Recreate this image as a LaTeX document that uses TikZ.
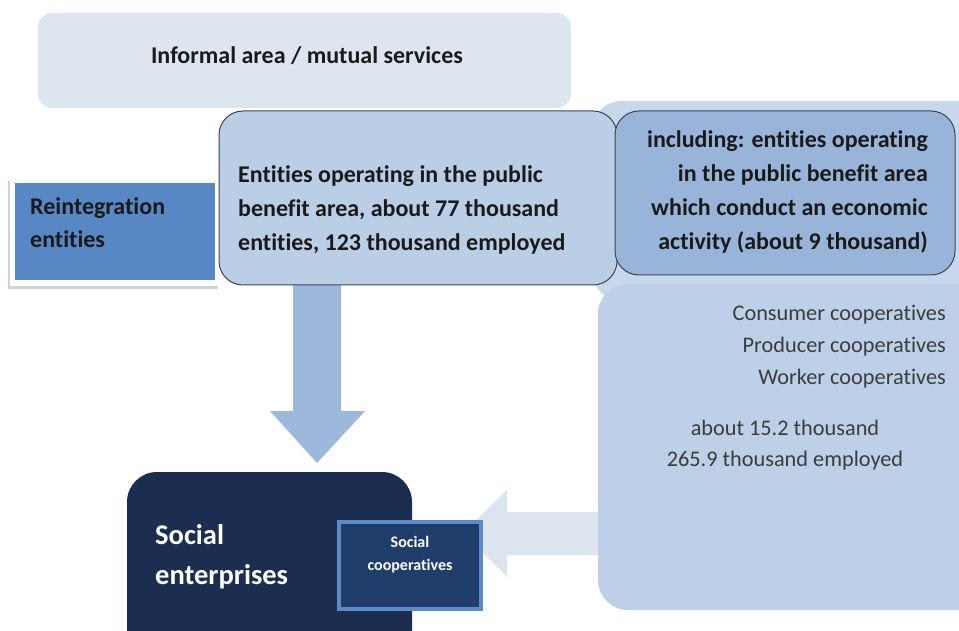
\documentclass[tikz,border=0pt]{standalone}
\usepackage{fontspec}
\setmainfont{Carlito}[Ligatures={NoCommon,NoRequired,NoContextual}]
\usetikzlibrary{shadows}
\definecolor{informal}{HTML}{DDE5F0}
\definecolor{rbgtop}{HTML}{C8D8EC}
\definecolor{rbg}{HTML}{BED0E7}
\definecolor{pubfill}{HTML}{BACEE6}
\definecolor{incfill}{HTML}{98B5D9}
\definecolor{reint}{HTML}{5787C4}
\definecolor{downarr}{HTML}{9DB8DB}
\definecolor{leftarr}{HTML}{DCE4F0}
\definecolor{navy}{HTML}{1B2E4F}
\definecolor{coopfill}{HTML}{1F3E6B}
\definecolor{coopedge}{HTML}{5C8BC6}
\definecolor{edgegray}{HTML}{3F4650}
\definecolor{txt}{HTML}{1A1A1A}
\begin{document}
\begin{tikzpicture}[x=1pt,y=-1pt,
  box/.style={rectangle,anchor=north west,inner sep=0pt,outer sep=0pt},
  boldtxt/.style={inner sep=0pt,text=txt,font=\bfseries\fontsize{24}{34}\selectfont},
  regtxt/.style={inner sep=0pt,text=txt!85,font=\fontsize{22.3}{32}\selectfont}]
\useasboundingbox (0,0) rectangle (959,631);
\fill[white] (0,0) rectangle (959,631);
% informal area
\node[box,fill=informal,rounded corners=14pt,minimum width=533pt,minimum height=95pt] (informal) at (38,13) {};
\node[boldtxt] (informaltxt) at (307,56) {Informal area / mutual services};
% right background
\node[box,fill=rbgtop,rounded corners=28pt,minimum width=400pt,minimum height=200pt] (rtop) at (593,101) {};
% left arrow (behind lower right box)
\fill[leftarr] (600,512) -- (507,512) -- (507,490) -- (463,533) -- (507,577) -- (507,555) -- (600,555) -- cycle;
\node[box,fill=rbg,rounded corners=30pt,minimum width=400pt,minimum height=326pt] (rlow) at (598,284) {};
% reintegration
\node[box,fill=white,minimum width=210pt,minimum height=108pt,drop shadow={shadow xshift=-2pt,shadow yshift=-3pt,fill=black!35}] (reframe) at (10,178) {};
\node[box,fill=reint,minimum width=200pt,minimum height=97pt] (reint) at (15,183) {};
\node[boldtxt,anchor=west,align=left,font=\bfseries\fontsize{24}{33}\selectfont] (reinttxt) at (30,223) {Reintegration\\entities};
% down arrow
\fill[downarr] (293,283) -- (341,283) -- (341,411) -- (365,411) -- (317,463) -- (270,411) -- (293,411) -- cycle;
% public benefit box
\node[box,fill=pubfill,draw=edgegray,line width=1pt,rounded corners=24pt,minimum width=398pt,minimum height=174pt] (pub) at (219,111) {};
\node[boldtxt,anchor=west,align=left] (pubtxt) at (238,210) {Entities operating in the public\\benefit area, about 77 thousand\\entities, 123 thousand employed};
% including box
\node[box,fill=incfill,draw=edgegray,line width=1pt,rounded corners=24pt,minimum width=340pt,minimum height=164pt] (inc) at (615,111) {};
\node[boldtxt,anchor=east,align=right] (inctxt) at (928,192) {including: entities operating\\in the public benefit area\\which conduct an economic\\activity (about 9 thousand)};
% cooperatives text
\node[regtxt,anchor=east,align=right] (coops) at (946,347) {Consumer cooperatives\\Producer cooperatives\\Worker cooperatives};
\node[regtxt,align=center,font=\fontsize{22.3}{31}\selectfont] (numbers) at (785,445) {about 15.2 thousand\\265.9 thousand employed};
% social enterprises
\node[box,fill=navy,rounded corners=30pt,minimum width=285pt,minimum height=190pt] (social) at (127,472) {};
\node[inner sep=0pt,text=white,anchor=west,align=left,font=\bfseries\fontsize{28.5}{40}\selectfont] (socialtxt) at (155,557) {Social\\enterprises};
% social cooperatives
\node[box,fill=coopfill,draw=coopedge,line width=4pt,minimum width=142pt,minimum height=87pt] (coop) at (339,522) {};
\node[inner sep=0pt,text=white,align=center,font=\bfseries\fontsize{16}{23}\selectfont] (cooptxt) at (410,555) {Social\\cooperatives};
\end{tikzpicture}
\end{document}
